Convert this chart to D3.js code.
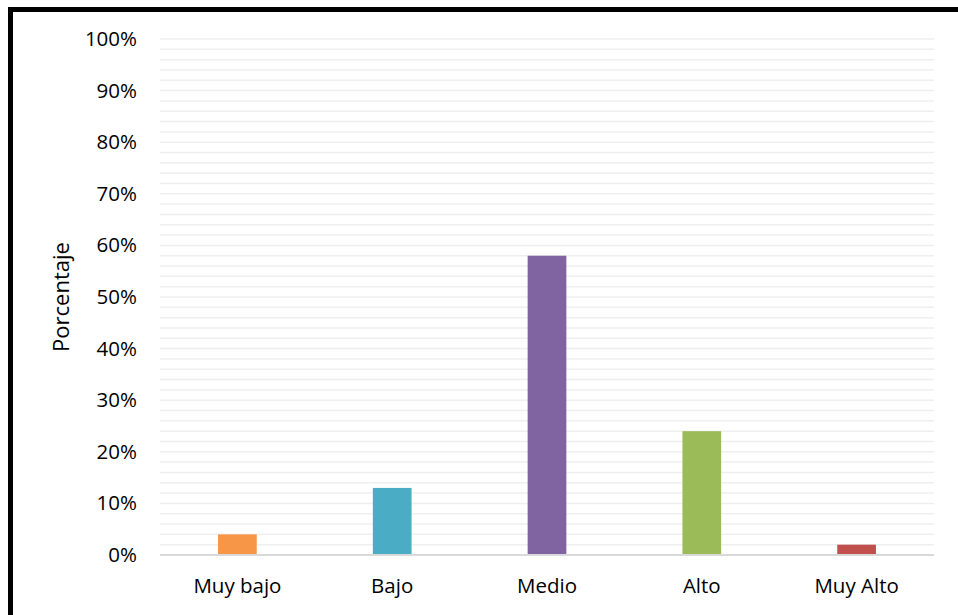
<!DOCTYPE html>
<html><head><meta charset="utf-8">
<script src="https://cdn.jsdelivr.net/npm/d3@7"></script>
<style>body{margin:0;background:#fff;} svg{display:block;}</style>
</head><body>
<script>
const categories = ["Muy bajo","Bajo","Medio","Alto","Muy Alto"];
const values = [4,13,58,24,2];
const colors = ["#F79646","#4BACC6","#8064A2","#9BBB59","#C0504D"];
const yTicks = [0,10,20,30,40,50,60,70,80,90,100];
const minorTicks = d3.range(0,101,2);

const W=958,H=615;
const svg=d3.select("body").append("svg").attr("width",W).attr("height",H);
svg.append("rect").attr("x",10.5).attr("y",9.5).attr("width",960).attr("height",620)
  .attr("fill","#fff").attr("stroke","#000").attr("stroke-width",5);

const m={left:160,right:934,top:39,bottom:555};
const x=d3.scaleBand().domain(categories).range([m.left,m.right]).paddingInner(0.75).paddingOuter(0.375);
const y=d3.scaleLinear().domain([0,100]).range([m.bottom,m.top]);

const font="Open Sans, Liberation Sans, sans-serif";
svg.append("g").selectAll("line").data(minorTicks.filter(d=>d>0)).join("line")
  .attr("x1",m.left).attr("x2",m.right).attr("y1",d=>y(d)).attr("y2",d=>y(d))
  .attr("stroke","#efefef").attr("stroke-width",1.5);

svg.append("g").selectAll("rect").data(values).join("rect")
  .attr("x",(d,i)=>x(categories[i])).attr("width",x.bandwidth())
  .attr("y",d=>y(d)).attr("height",d=>y(0)-y(d)).attr("fill",(d,i)=>colors[i]);

svg.append("line").attr("x1",m.left).attr("x2",m.right).attr("y1",y(0)).attr("y2",y(0))
  .attr("stroke","#d9d9d9").attr("stroke-width",2);

const yAxis=svg.append("g").attr("transform",`translate(${m.left},0)`)
  .call(d3.axisLeft(y).tickValues(yTicks).tickFormat(d=>d+"%").tickSize(0).tickPadding(23));
yAxis.select(".domain").remove();
yAxis.selectAll("text").attr("font-family",font).attr("font-size",20.5).attr("fill","#000");

const xAxis=svg.append("g").attr("transform",`translate(0,${y(0)})`)
  .call(d3.axisBottom(x).tickSize(0).tickPadding(23));
xAxis.select(".domain").remove();
xAxis.selectAll("text").attr("font-family",font).attr("font-size",20.5).attr("fill","#000");

svg.append("text").attr("transform",`translate(69,${297}) rotate(-90)`)
  .attr("text-anchor","middle").attr("font-family",font).attr("font-size",22).attr("fill","#000")
  .text("Porcentaje");
</script>
</body></html>
